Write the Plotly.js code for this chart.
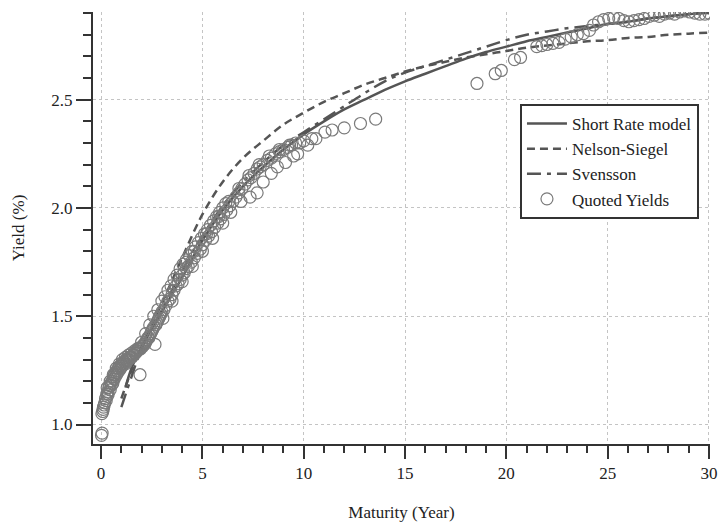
<!DOCTYPE html>
<html>
<head>
<meta charset="utf-8">
<script src="https://cdn.plot.ly/plotly-3.0.1.min.js"></script>
<style>html,body{margin:0;padding:0;background:#fff;}#chart{width:726px;height:527px;}</style>
</head>
<body>
<div id="chart"></div>
<script>
// Short Rate model curve
const srX = [1.2, 1.5, 2, 2.5, 3, 3.5, 4, 5, 6, 7, 8, 9, 10, 11, 12, 13, 14, 15, 16, 17, 18, 19, 20, 21, 22, 23, 24, 25, 26, 27, 28, 29, 30];
const srY = [1.17, 1.26, 1.36, 1.44, 1.52, 1.60, 1.68, 1.85, 1.99, 2.10, 2.19, 2.27, 2.34, 2.40, 2.455, 2.50, 2.545, 2.585, 2.62, 2.655, 2.69, 2.72, 2.745, 2.77, 2.79, 2.81, 2.83, 2.85, 2.86, 2.875, 2.885, 2.895, 2.90];

// Nelson-Siegel curve
const nsX = [1, 1.5, 2, 3, 4, 5, 6, 7, 8, 9, 10, 11, 12, 13, 14, 15, 16, 17, 18, 19, 20, 21, 22, 23, 24, 25, 26, 27, 28, 29, 30];
const nsY = [1.12, 1.25, 1.36, 1.56, 1.77, 1.97, 2.12, 2.23, 2.31, 2.385, 2.44, 2.49, 2.53, 2.57, 2.60, 2.63, 2.655, 2.675, 2.695, 2.71, 2.725, 2.74, 2.75, 2.76, 2.77, 2.775, 2.785, 2.79, 2.80, 2.805, 2.81];

// Svensson curve
const svX = [1, 1.5, 2, 3, 4, 5, 6, 7, 8, 9, 10, 11, 12, 13, 14, 15, 16, 17, 18, 19, 20, 21, 22, 23, 24, 25, 26, 27, 28, 29, 30];
const svY = [1.08, 1.22, 1.35, 1.53, 1.71, 1.87, 2.01, 2.12, 2.21, 2.29, 2.35, 2.41, 2.47, 2.53, 2.585, 2.625, 2.655, 2.685, 2.715, 2.745, 2.775, 2.80, 2.815, 2.83, 2.84, 2.85, 2.86, 2.875, 2.885, 2.895, 2.905];

// Quoted yields
const qX = [0.02, 0.05, 0.04, 0.08, 0.12, 0.18, 0.22, 0.28, 0.33, 0.38, 0.42, 0.48, 0.55, 0.6, 0.66, 0.72, 0.78, 0.85, 0.92, 1.0, 1.08, 1.15, 1.22, 1.3, 1.38, 1.45, 1.55, 1.65, 1.75, 1.85, 1.92, 1.95, 2.05, 2.15, 2.25, 2.35, 2.45, 2.55, 2.66, 2.7, 2.8, 2.9, 3.0, 3.1, 3.2, 3.3, 3.4, 3.5, 3.6, 3.7, 3.8, 3.9, 4.0, 4.1, 4.2, 4.3, 4.45, 4.6, 4.75, 4.9, 5.0, 5.15, 5.3, 5.45, 5.6, 5.75, 5.9, 6.05, 6.2, 6.35, 6.5, 6.65, 6.8, 6.95, 7.1, 7.25, 7.4, 7.55, 7.7, 7.85, 8.0, 8.2, 8.4, 8.6, 8.8, 9.0, 9.2, 9.4, 9.6, 9.8,
  3.05, 3.5, 4.0, 4.5, 5.0, 5.5, 6.0, 6.4, 6.9, 7.35, 7.7, 8.0, 8.4, 8.7, 9.1, 9.5, 9.7, 10.2, 10.0, 10.4,
  4.2, 4.6, 5.2, 5.8, 6.3, 6.8, 7.3, 7.8, 8.3, 8.8, 9.3,
  0.1, 0.15, 0.25, 0.3, 0.35, 0.45, 0.5, 0.58, 0.64, 0.7, 0.76, 0.82, 0.9, 0.96, 1.04, 1.12, 1.2, 1.27, 1.35, 1.42, 1.5, 1.6, 1.7, 1.8, 1.9, 2.0, 2.1, 2.2, 2.3, 2.4, 2.5, 2.6, 2.75, 2.85, 2.95,
  0.3, 0.45, 0.6, 0.75, 0.9, 1.05, 1.2, 1.35, 1.5, 1.65, 1.8, 2.0, 2.2, 2.4, 2.6, 2.8, 3.0, 3.15, 3.3, 3.45, 3.6, 3.75, 3.9, 4.05, 4.2, 4.35, 4.5, 4.65, 4.8, 4.95, 5.1, 5.25, 5.4, 5.55, 5.7, 5.85, 6.0, 6.15,
  10.6, 11.05, 11.4, 12.0, 12.8, 13.55,
  18.55, 19.45, 19.75, 20.4, 20.7, 21.5, 21.75, 22.0, 22.3, 22.6, 22.9, 23.2, 23.5, 23.8, 24.1, 24.3, 24.55, 24.8, 25.05, 25.3, 25.55, 25.8, 26.05, 26.3, 26.55, 26.8, 27.05, 27.3, 27.55, 27.8, 28.05, 28.3, 28.55, 28.8, 29.05, 29.3, 29.55, 29.8, 30.0];
const qY = [0.95, 0.96, 1.05, 1.06, 1.08, 1.10, 1.12, 1.14, 1.15, 1.17, 1.18, 1.19, 1.20, 1.22, 1.23, 1.24, 1.25, 1.26, 1.27, 1.28, 1.28, 1.29, 1.30, 1.30, 1.31, 1.31, 1.32, 1.33, 1.34, 1.35, 1.23, 1.35, 1.36, 1.37, 1.39, 1.40, 1.42, 1.44, 1.37, 1.46, 1.48, 1.50, 1.52, 1.53, 1.55, 1.57, 1.58, 1.60, 1.62, 1.64, 1.65, 1.67, 1.69, 1.70, 1.72, 1.73, 1.75, 1.77, 1.79, 1.81, 1.83, 1.85, 1.87, 1.89, 1.91, 1.93, 1.95, 1.97, 1.99, 2.01, 2.03, 2.05, 2.07, 2.09, 2.11, 2.13, 2.14, 2.16, 2.18, 2.19, 2.20, 2.22, 2.23, 2.25, 2.26, 2.27, 2.28, 2.29, 2.30, 2.30,
  1.49, 1.57, 1.66, 1.73, 1.80, 1.86, 1.93, 1.98, 2.03, 2.05, 2.07, 2.12, 2.16, 2.19, 2.21, 2.24, 2.25, 2.29, 2.31, 2.32,
  1.75, 1.80, 1.88, 1.96, 2.03, 2.09, 2.15, 2.20, 2.24, 2.27, 2.29,
  1.07, 1.09, 1.11, 1.13, 1.14, 1.16, 1.18, 1.19, 1.21, 1.22, 1.23, 1.24, 1.25, 1.26, 1.27, 1.28, 1.28, 1.29, 1.30, 1.31, 1.31, 1.32, 1.33, 1.34, 1.35, 1.36, 1.37, 1.38, 1.40, 1.41, 1.43, 1.45, 1.47, 1.49, 1.51,
  1.17, 1.20, 1.23, 1.26, 1.28, 1.30, 1.31, 1.32, 1.33, 1.34, 1.35, 1.38, 1.42, 1.46, 1.50, 1.53, 1.57, 1.59, 1.62, 1.64, 1.67, 1.69, 1.72, 1.74, 1.76, 1.78, 1.80, 1.82, 1.84, 1.86, 1.88, 1.90, 1.92, 1.94, 1.96, 1.98, 2.00, 2.02,
  2.32, 2.35, 2.36, 2.37, 2.39, 2.41,
  2.575, 2.62, 2.635, 2.685, 2.695, 2.745, 2.75, 2.755, 2.76, 2.765, 2.78, 2.79, 2.80, 2.805, 2.82, 2.845, 2.86, 2.87, 2.875, 2.88, 2.875, 2.865, 2.86, 2.865, 2.87, 2.875, 2.885, 2.89, 2.885, 2.895, 2.90, 2.895, 2.905, 2.91, 2.905, 2.90, 2.895, 2.895, 2.90];

const xTickVals = [0, 5, 10, 15, 20, 25, 30];
const yTickVals = [1.0, 1.5, 2.0, 2.5];
const yTickText = ['1.0', '1.5', '2.0', '2.5'];

const lineCol = '#555555';
const font = 'Liberation Serif, Times New Roman, serif';

const traces = [
  {x: srX, y: srY, type: 'scatter', mode: 'lines', name: 'Short Rate model',
   line: {color: lineCol, width: 2.5, shape: 'spline'}},
  {x: nsX, y: nsY, type: 'scatter', mode: 'lines', name: 'Nelson-Siegel',
   line: {color: lineCol, width: 2.5, dash: '8px,5px', shape: 'spline'}},
  {x: svX, y: svY, type: 'scatter', mode: 'lines', name: 'Svensson',
   line: {color: lineCol, width: 2.5, dash: '14px,6px,4px,6px', shape: 'spline'}},
  {x: qX, y: qY, type: 'scatter', mode: 'markers', name: 'Quoted Yields',
   marker: {symbol: 'circle-open', size: 12, color: '#7a7a7a', line: {width: 1.2, color: '#7a7a7a'}}}
];

const layout = {
  width: 726, height: 527,
  margin: {l: 93, r: 16, t: 12, b: 83},
  paper_bgcolor: '#fff', plot_bgcolor: '#fff',
  font: {family: font, size: 17, color: '#222'},
  showlegend: true,
  legend: {x: 0.692, y: 0.787, xanchor: 'left', yanchor: 'top',
    bgcolor: '#fff', bordercolor: '#333', borderwidth: 2, itemwidth: 40,
    font: {family: font, size: 17, color: '#222'}, tracegroupgap: 0},
  xaxis: {
    range: [-0.4, 30.05], tickvals: xTickVals, ticks: 'outside', ticklen: 13, tickwidth: 2, tickcolor: '#333',
    showline: true, linecolor: '#333', linewidth: 2, zeroline: false,
    showgrid: true, gridcolor: '#c4c4c4', griddash: 'dot', gridwidth: 1,
    minor: {dtick: 1, ticks: 'outside', ticklen: 7, tickwidth: 2, tickcolor: '#333', showgrid: false},
    title: {text: 'Maturity (Year)', font: {family: font, size: 17, color: '#222'}, standoff: 24},
    tickfont: {family: font, size: 17, color: '#222'}
  },
  yaxis: {
    range: [0.91, 2.905], tickvals: yTickVals, ticktext: yTickText, ticks: 'outside', ticklen: 15, tickwidth: 2, tickcolor: '#333',
    showline: true, linecolor: '#333', linewidth: 2, zeroline: false,
    showgrid: true, gridcolor: '#c4c4c4', griddash: 'dot', gridwidth: 1,
    minor: {dtick: 0.1, tick0: 0, ticks: 'outside', ticklen: 8, tickwidth: 2, tickcolor: '#333', showgrid: false},
    title: {text: 'Yield (%)', font: {family: font, size: 17, color: '#222'}, standoff: 22},
    tickfont: {family: font, size: 17, color: '#222'}
  }
};

Plotly.newPlot('chart', traces, layout, {displayModeBar: false, staticPlot: true});
</script>
</body>
</html>
